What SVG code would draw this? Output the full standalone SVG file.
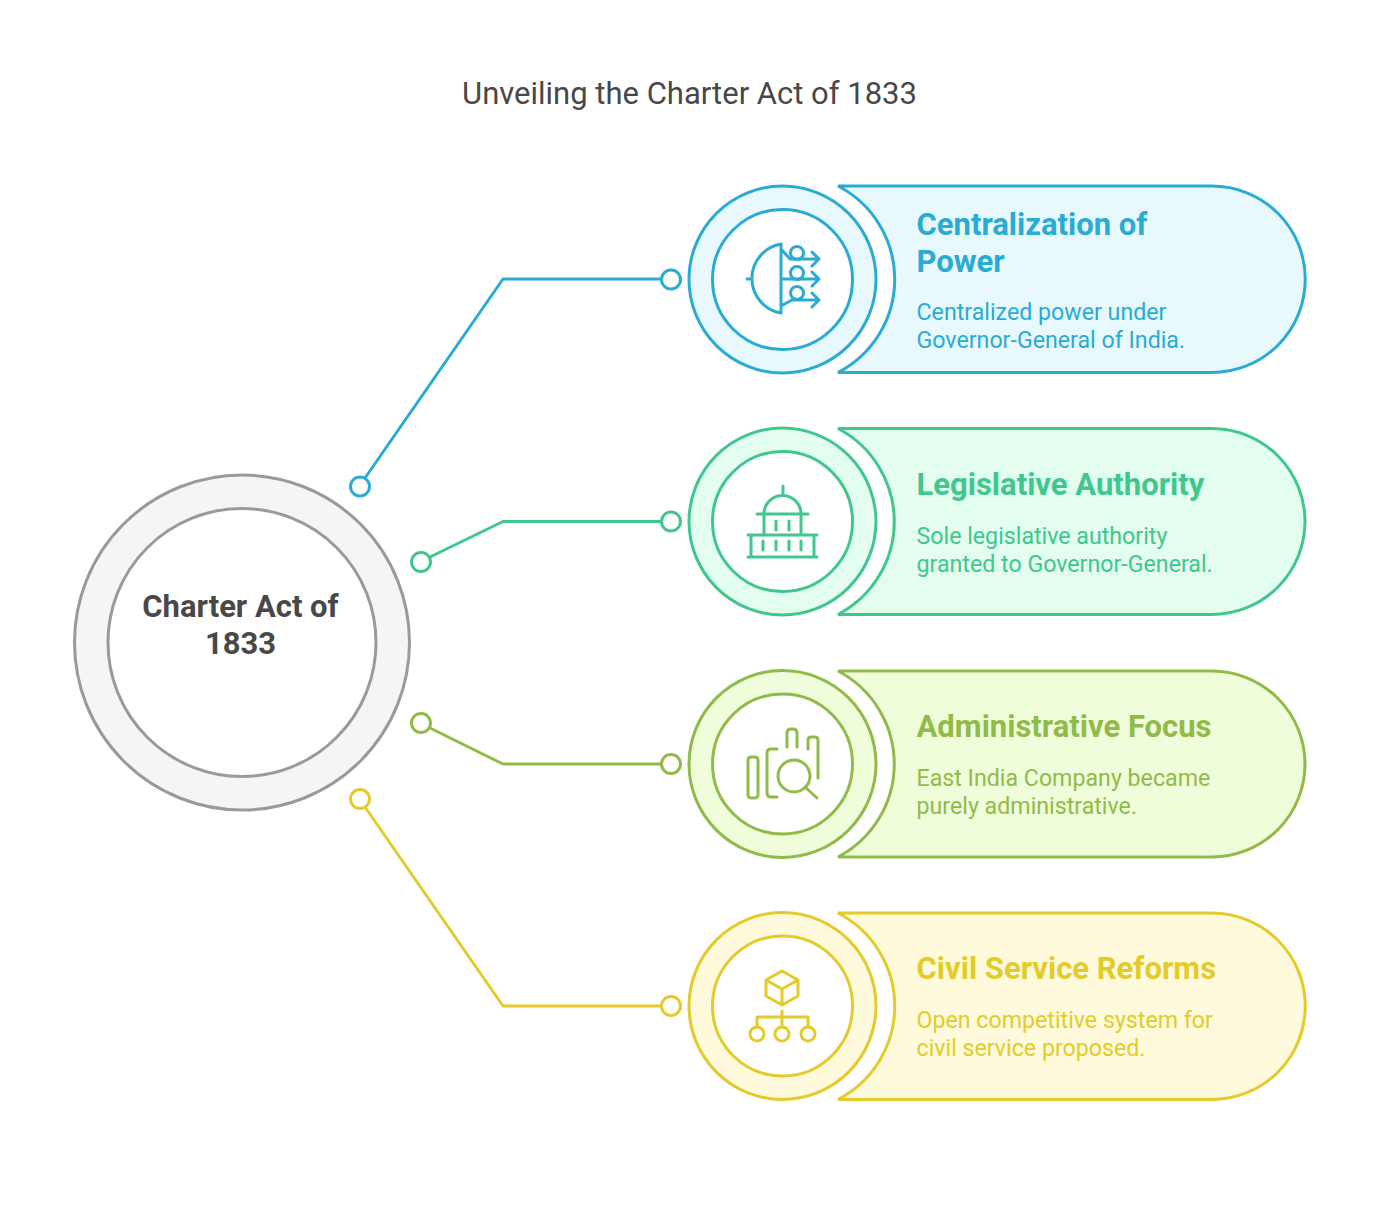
<svg xmlns="http://www.w3.org/2000/svg" width="1379" height="1211" viewBox="0 0 1379 1211">
<style>
text{font-family:Roboto,"Liberation Sans",sans-serif}
.title{font-size:31px;fill:#484848}
.c{fill:none;stroke-width:3;stroke-linecap:round;stroke-linejoin:round}
.p{fill:#fff;stroke-width:3}
.s{stroke-width:3}
.i{fill:#fff;stroke-width:3}
.h{font-size:31px;font-weight:700}
.d{font-size:23.2px}
.blue .c,.blue .p,.blue .i{stroke:#2aabd3}.blue .s{stroke:#2aabd3;fill:#e8f9fe}.blue text{fill:#2aabd3}
.green .c,.green .p,.green .i{stroke:#40c78e}.green .s{stroke:#40c78e;fill:#e3fdef}.green text{fill:#40c78e}
.lime .c,.lime .p,.lime .i{stroke:#90bb48}.lime .s{stroke:#90bb48;fill:#f0fdda}.lime text{fill:#90bb48}
.yel .c,.yel .p,.yel .i{stroke:#e2cb2a}.yel .s{stroke:#e2cb2a;fill:#fefadb}.yel text{fill:#e2cb2a}
</style>
<text class="title" x="689.5" y="104" text-anchor="middle">Unveiling the Charter Act of 1833</text>
<g id="connectors">
<g class="blue"><path class="c" d="M365 478L503 279H661"/><circle class="p" cx="360" cy="486.500" r="9.5"/><circle class="p" cx="671" cy="279.500" r="9.5"/></g>
<g class="green"><path class="c" d="M430 557L503 521.500H661"/><circle class="p" cx="421" cy="562" r="9.5"/><circle class="p" cx="671" cy="521.500" r="9.5"/></g>
<g class="lime"><path class="c" d="M430 728L503 764H661"/><circle class="p" cx="421" cy="723" r="9.5"/><circle class="p" cx="671" cy="764" r="9.5"/></g>
<g class="yel"><path class="c" d="M365 807L503 1006H661"/><circle class="p" cx="360" cy="799" r="9.5"/><circle class="p" cx="671" cy="1006" r="9.5"/></g>
</g>
<g id="hub">
<circle cx="242" cy="642.500" r="167.500" fill="#f5f5f5" stroke="#9a9a9a" stroke-width="3"/>
<circle cx="242" cy="642.500" r="134" fill="#fff" stroke="#9a9a9a" stroke-width="3"/>
<text x="240.500" y="616.500" text-anchor="middle" font-size="31" font-weight="700" fill="#484848">Charter Act of</text>
<text x="240.500" y="653.500" text-anchor="middle" font-size="31" font-weight="700" fill="#484848">1833</text>
</g>
<g id="node-centralization" class="blue">
<path class="s" d="M838 186H1212A93 93 0 0 1 1212 372.500H838A105 105 0 0 0 838 186Z"/>
<circle class="s" cx="782.500" cy="279.500" r="93.500"/>
<circle class="i" cx="782.500" cy="279.500" r="70"/>
<path class="c" d="M781 244V313A35 35 0 0 1 781 244ZM747 279H752M781 279H818M812 272L819 279L812 286M781 249L790 259H818M812 252L819 259L812 266M781 306L792 300H818M812 293L819 300L812 307"/>
<circle class="c" cx="797" cy="253" r="6.500"/><circle class="c" cx="797" cy="273" r="6.500"/><circle class="c" cx="797" cy="293" r="6.500"/>
<text class="h" x="916.500" y="234.500">Centralization of</text>
<text class="h" x="916.500" y="271.500">Power</text>
<text class="d" x="916.500" y="319.500">Centralized power under</text>
<text class="d" x="916.500" y="347.500">Governor-General of India.</text>
</g>
<g id="node-legislative" class="green">
<path class="s" d="M838 428.500H1212A93 93 0 0 1 1212 614.500H838A105 105 0 0 0 838 428.500Z"/>
<circle class="s" cx="782.500" cy="521.500" r="93.500"/>
<circle class="i" cx="782.500" cy="521.500" r="70"/>
<path class="c" d="M748 557H817M748 535H817M751 535V557M814 535V557M764 514V535M801 514V535M757 514H808M764 514A18.500 18.500 0 0 1 801 514M783 486V494M776 521V530M789 521V530M763 541V550M776 541V550M789 541V550M801 541V550"/>
<text class="h" x="916.500" y="495">Legislative Authority</text>
<text class="d" x="916.500" y="543.500">Sole legislative authority</text>
<text class="d" x="916.500" y="571.500">granted to Governor-General.</text>
</g>
<g id="node-administrative" class="lime">
<path class="s" d="M838 671H1212A93 93 0 0 1 1212 857H838A105 105 0 0 0 838 671Z"/>
<circle class="s" cx="782.500" cy="764" r="93.500"/>
<circle class="i" cx="782.500" cy="764" r="70"/>
<rect class="c" x="748" y="757" width="10" height="41" rx="3"/>
<path class="c" d="M777 749H771Q767 749 767 753V793Q767 797 771 797H777M787 747V733Q787 729 791 729H793Q797 729 797 733V747M808 749V740Q808 737 811 737H815Q818 737 818 740V778M805 787L817 798"/>
<circle class="c" cx="794" cy="776" r="16"/>
<text class="h" x="916.500" y="737">Administrative Focus</text>
<text class="d" x="916.500" y="785.500">East India Company became</text>
<text class="d" x="916.500" y="813.500">purely administrative.</text>
</g>
<g id="node-civil" class="yel">
<path class="s" d="M838 913H1212A93 93 0 0 1 1212 1099.500H838A105 105 0 0 0 838 913Z"/>
<circle class="s" cx="782.500" cy="1006" r="93.500"/>
<circle class="i" cx="782.500" cy="1006" r="70"/>
<path class="c" d="M782 971L798 980V996L782 1005L766 996V980ZM766 980L782 989L798 980M782 989V1005M782 1011V1027M757 1027V1017H808V1027"/>
<circle class="c" cx="757" cy="1034" r="7"/><circle class="c" cx="782" cy="1034" r="7"/><circle class="c" cx="808" cy="1034" r="7"/>
<text class="h" x="916.500" y="979">Civil Service Reforms</text>
<text class="d" x="916.500" y="1027.500">Open competitive system for</text>
<text class="d" x="916.500" y="1055.500">civil service proposed.</text>
</g>
</svg>
